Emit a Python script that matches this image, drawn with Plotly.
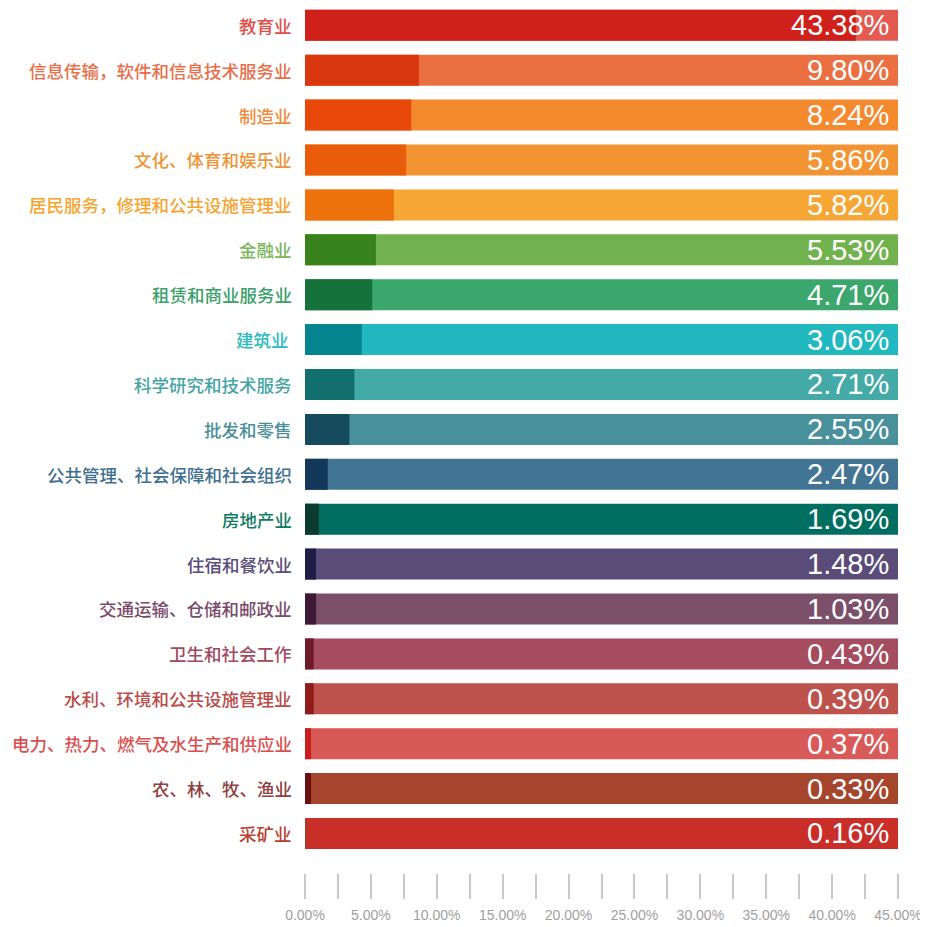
import plotly.graph_objects as go

# industries, top to bottom
industries = [
    "教育业", "信息传输，软件和信息技术服务业", "制造业", "文化、体育和娱乐业",
    "居民服务，修理和公共设施管理业", "金融业", "租赁和商业服务业", "建筑业 ",
    "科学研究和技术服务", "批发和零售", "公共管理、社会保障和社会组织", "房地产业",
    "住宿和餐饮业", "交通运输、仓储和邮政业", "卫生和社会工作",
    "水利、环境和公共设施管理业", "电力、热力、燃气及水生产和供应业",
    "农、林、牧、渔业", "采矿业",
]
# printed shares (%)
shares = [43.38, 9.80, 8.24, 5.86, 5.82, 5.53, 4.71, 3.06, 2.71, 2.55,
          2.47, 1.69, 1.48, 1.03, 0.43, 0.39, 0.37, 0.33, 0.16]
# dark bar lengths as drawn (%)
bar_lengths = [41.8, 8.65, 8.06, 7.68, 6.75, 5.38, 5.10, 4.31, 3.75, 3.37,
               1.73, 1.06, 0.84, 0.84, 0.66, 0.66, 0.46, 0.46, 0.12]
axis_max = 45

dark_colors = ["#D0201A", "#D9380F", "#E8490A", "#E85C0C", "#EE720E",
               "#38821C", "#14723A", "#05838F", "#11706E", "#154B5C",
               "#13385A", "#0A3B2E", "#201C46", "#3E1A34", "#6E1A28",
               "#911A1A", "#C81E1E", "#6A1010", "#A83A2A"]
light_colors = ["#E35A50", "#EA7042", "#F4892E", "#F39432", "#F6A634",
                "#72B24E", "#3BA76C", "#22B8C0", "#43AAA8", "#48909A",
                "#427494", "#006E60", "#5A4C78", "#7B4F6A", "#A54C5E",
                "#BE524C", "#D85A58", "#A6452E", "#C92E28"]
label_colors = ["#E0504A", "#E86F4A", "#F08A3A", "#EE9436", "#F5A431",
                "#7BB55A", "#3BA06A", "#2DB9C0", "#45A5A5", "#4A8F99",
                "#3F6F8E", "#0F7A60", "#5A4C78", "#7A4A6A", "#9E4A60",
                "#B94B48", "#D85050", "#8E4040", "#B8402F"]

n = len(industries)
idx = list(range(n))

fig = go.Figure()
fig.add_trace(go.Bar(
    y=idx, x=[axis_max] * n, orientation="h",
    marker=dict(color=light_colors, line_width=0),
    hoverinfo="skip", showlegend=False,
))
fig.add_trace(go.Bar(
    y=idx, x=bar_lengths, orientation="h",
    marker=dict(color=dark_colors, line_width=0),
    customdata=shares, hovertemplate="%{customdata:.2f}%<extra></extra>",
    showlegend=False,
))

annotations = []
for i, (name, s, c) in enumerate(zip(industries, shares, label_colors)):
    annotations.append(dict(
        x=0, y=i, xref="x", yref="y", text=name, showarrow=False,
        xanchor="right", xshift=-11,
        font=dict(family="Noto Sans CJK SC", size=17.5, color=c, weight=500),
    ))
    annotations.append(dict(
        x=axis_max, y=i, xref="x", yref="y", text=f"{s:.2f}%", showarrow=False,
        xanchor="right", xshift=-7,
        font=dict(family="Liberation Sans, Arial", size=29, color="white"),
    ))

# page body has an 8px margin, so the figure is 8px smaller than the window
fig.update_layout(
    width=920, height=919,
    margin=dict(l=297, r=30, t=0, b=54),
    plot_bgcolor="white", paper_bgcolor="white",
    barmode="overlay", bargap=0.31,
    annotations=annotations,
    xaxis=dict(
        range=[0, axis_max], dtick=5, tickformat=".2f", ticksuffix="%",
        showgrid=False, zeroline=False, showline=False,
        ticks="outside", ticklen=25, tickwidth=1.5, tickcolor="#C8C8C8",
        minor=dict(dtick=2.5, ticks="outside", ticklen=25, tickwidth=1.5,
                   tickcolor="#C8C8C8", showgrid=False),
        tickfont=dict(family="Liberation Sans, Arial", size=14, color="#A0A0A0"),
        ticklabelstandoff=4,
    ),
    yaxis=dict(
        range=[18.88, -0.385], showticklabels=False, ticks="",
        showgrid=False, zeroline=False, showline=False,
    ),
)

fig.write_html("out.html")
